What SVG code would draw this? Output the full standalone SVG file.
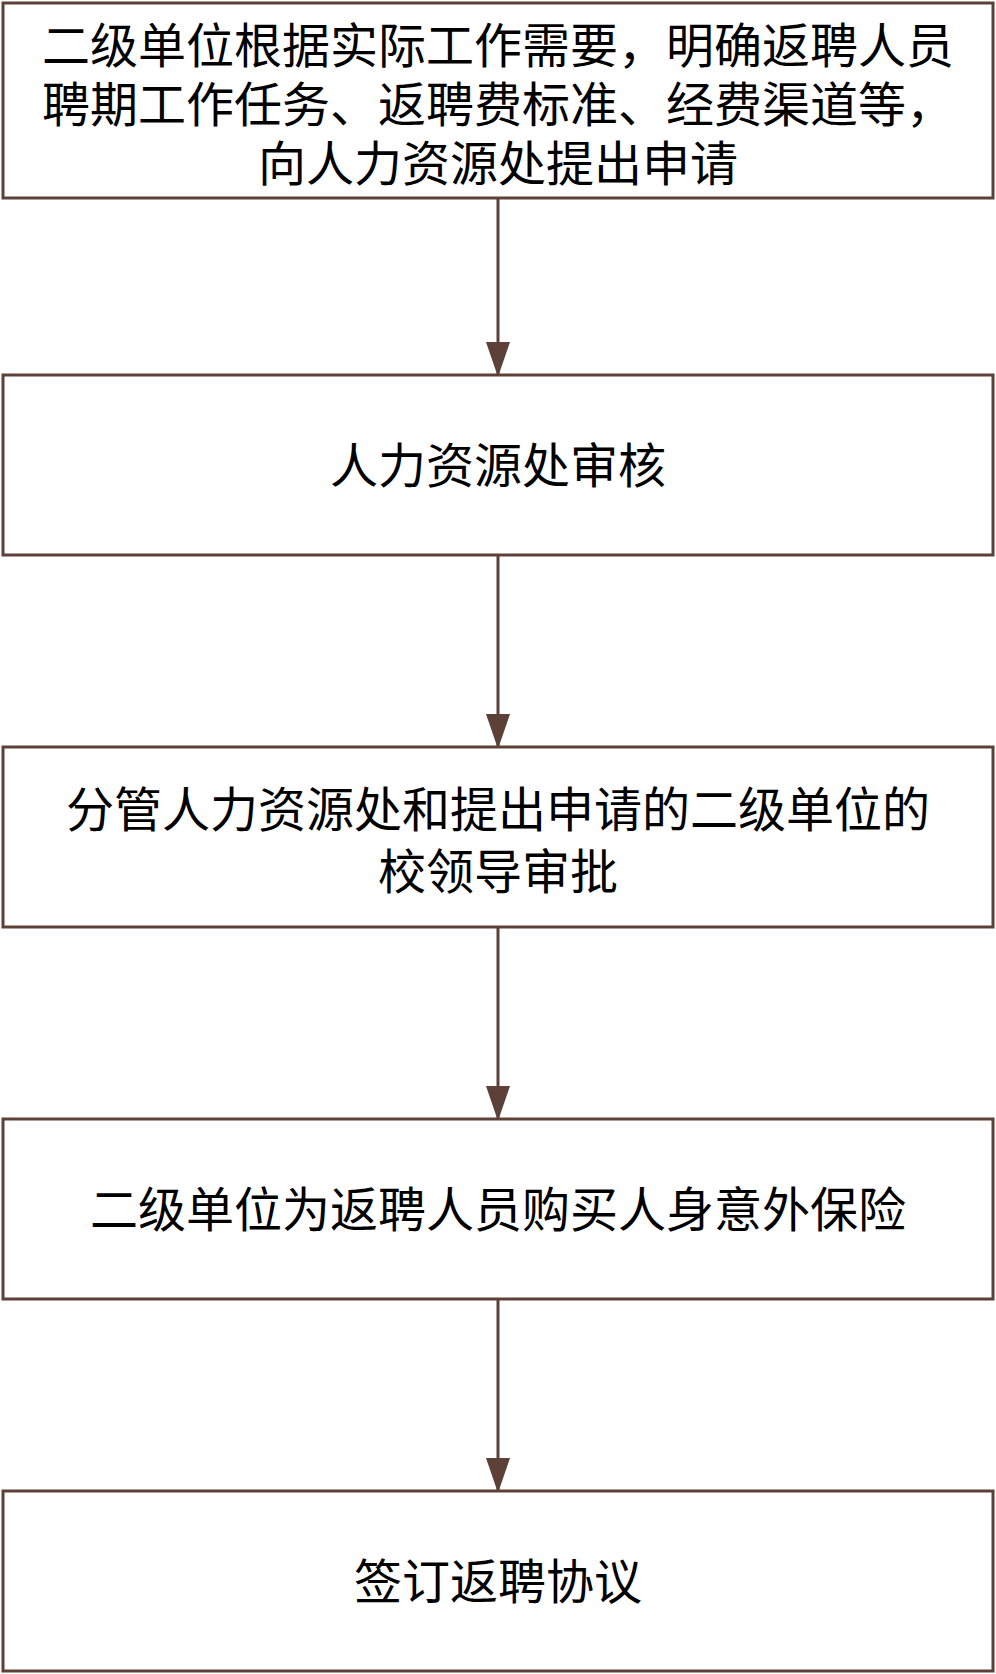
<svg xmlns="http://www.w3.org/2000/svg" width="996" height="1674" viewBox="0 0 996 1674">
  <style>
    .box { fill: #ffffff; stroke: #5d4037; stroke-width: 3; }
    .lbl { font-family: "Noto Sans CJK SC", "Noto Sans", sans-serif; font-size: 48px; fill: #000000; text-anchor: middle; }
    .edge { stroke: #5d4037; stroke-width: 3; fill: none; }
  </style>
  <defs>
    <marker id="arrow" viewBox="0 0 35 24" refX="35" refY="12" markerWidth="35" markerHeight="24" markerUnits="userSpaceOnUse" orient="auto">
      <path d="M0,0 L35,12 L0,24 Z" fill="#5d4037"/>
    </marker>
  </defs>
  <rect width="996" height="1674" fill="#ffffff"/>
  <g id="connectors">
    <line class="edge" x1="498" y1="198" x2="498" y2="377" marker-end="url(#arrow)"/>
    <line class="edge" x1="498" y1="555" x2="498" y2="749" marker-end="url(#arrow)"/>
    <line class="edge" x1="498" y1="927" x2="498" y2="1121" marker-end="url(#arrow)"/>
    <line class="edge" x1="498" y1="1299" x2="498" y2="1493" marker-end="url(#arrow)"/>
  </g>
  <g id="node1">
    <rect class="box" x="3" y="3" width="990" height="195"/>
    <text class="lbl" x="498" y="63">二级单位根据实际工作需要，明确返聘人员</text>
    <text class="lbl" x="498" y="122">聘期工作任务、返聘费标准、经费渠道等，</text>
    <text class="lbl" x="498" y="181">向人力资源处提出申请</text>
  </g>
  <g id="node2">
    <rect class="box" x="3" y="375" width="990" height="180"/>
    <text class="lbl" x="498" y="483">人力资源处审核</text>
  </g>
  <g id="node3">
    <rect class="box" x="3" y="747" width="990" height="180"/>
    <text class="lbl" x="498" y="827">分管人力资源处和提出申请的二级单位的</text>
    <text class="lbl" x="498" y="889">校领导审批</text>
  </g>
  <g id="node4">
    <rect class="box" x="3" y="1119" width="990" height="180"/>
    <text class="lbl" x="498" y="1227">二级单位为返聘人员购买人身意外保险</text>
  </g>
  <g id="node5">
    <rect class="box" x="3" y="1491" width="990" height="180"/>
    <text class="lbl" x="498" y="1599">签订返聘协议</text>
  </g>
</svg>
